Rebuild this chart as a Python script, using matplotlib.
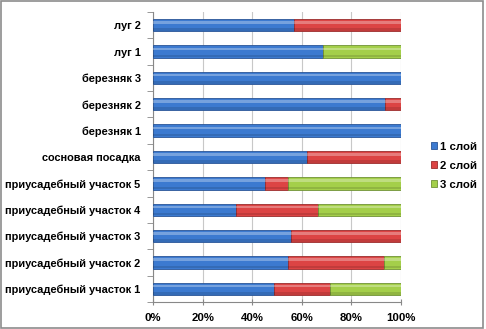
import matplotlib
matplotlib.use("Agg")
import matplotlib.pyplot as plt
from matplotlib.patches import Rectangle
import numpy as np

categories = [
    "приусадебный участок 1",
    "приусадебный участок 2",
    "приусадебный участок 3",
    "приусадебный участок 4",
    "приусадебный участок 5",
    "сосновая посадка",
    "березняк 1",
    "березняк 2",
    "березняк 3",
    "луг 1",
    "луг 2",
]
layer1 = [48.8, 54.4, 55.6, 33.3, 45.2, 62.2, 100.0, 93.5, 100.0, 68.4, 56.9]
layer2 = [22.6, 38.9, 44.4, 33.3, 9.1, 37.8, 0.0, 6.5, 0.0, 0.0, 43.1]
layer3 = [28.6, 6.7, 0.0, 33.4, 45.7, 0.0, 0.0, 0.0, 0.0, 31.6, 0.0]
series_names = ["1 слой", "2 слой", "3 слой"]
x_ticks = [0, 20, 40, 60, 80, 100]
x_tick_labels = ["0%", "20%", "40%", "60%", "80%", "100%"]

colors = ["#3c7ad0", "#dc4444", "#a4cf4a"]
edges = ["#2a5596", "#9a2c2c", "#6f9235"]

plt.rcParams["font.family"] = ["Liberation Sans", "DejaVu Sans"]
fs = 7.9

fig = plt.figure(figsize=(4.86, 3.29), dpi=100)
ax = fig.add_axes([153 / 486, 1 - 302 / 329, 248 / 486, 290 / 329])

y = np.arange(len(categories))
h = 0.47
left = np.zeros(len(categories))
for vals, c, ec, name in zip([layer1, layer2, layer3], colors, edges, series_names):
    vals = np.array(vals)
    ax.barh(y, vals, left=left, height=h, color=c, edgecolor=ec,
            linewidth=0.6, label=name, zorder=3)
    # glossy highlight near the top of each segment, shadow along the bottom
    ax.barh(y + h * 0.22, vals, left=left, height=h * 0.2, color="white",
            alpha=0.3, linewidth=0, zorder=4)
    ax.barh(y - h * 0.36, vals, left=left, height=h * 0.2, color="black",
            alpha=0.12, linewidth=0, zorder=4)
    left += vals

ax.set_xlim(0, 100)
ax.set_ylim(-0.5, len(categories) - 0.5)
ax.set_xticks(x_ticks)
ax.set_xticklabels(x_tick_labels, fontsize=fs + 0.3, fontweight="bold")
ax.set_yticks(y)
ax.set_yticklabels(categories, fontsize=fs, fontweight="bold")
ax.tick_params(axis="y", length=0, pad=9)
ax.set_yticks(np.arange(-0.5, len(categories), 1), minor=True)
ax.tick_params(axis="y", which="minor", length=4, direction="out", color="#888888")
ax.tick_params(axis="x", length=4, direction="inout", color="#888888", pad=6)

ax.grid(axis="x", color="#c8c8c8", linewidth=0.8, zorder=0)
for side in ["top", "right"]:
    ax.spines[side].set_visible(False)
ax.spines["left"].set_color("#888888")
ax.spines["bottom"].set_color("#888888")

handles, labels = ax.get_legend_handles_labels()
fig.legend(handles, labels, loc="upper left", bbox_to_anchor=(426 / 486, 1 - 137 / 329),
           frameon=False, prop={"weight": "bold", "size": fs + 0.3},
           handlelength=0.55, handleheight=0.55, handletextpad=0.3, labelspacing=0.8,
           borderaxespad=0)

fig.patches.append(Rectangle((0.003, 0.003), 0.99, 0.994, transform=fig.transFigure,
                             fill=False, edgecolor="#8c8c8c", linewidth=1.2))

fig.savefig("out.png", dpi=100)
